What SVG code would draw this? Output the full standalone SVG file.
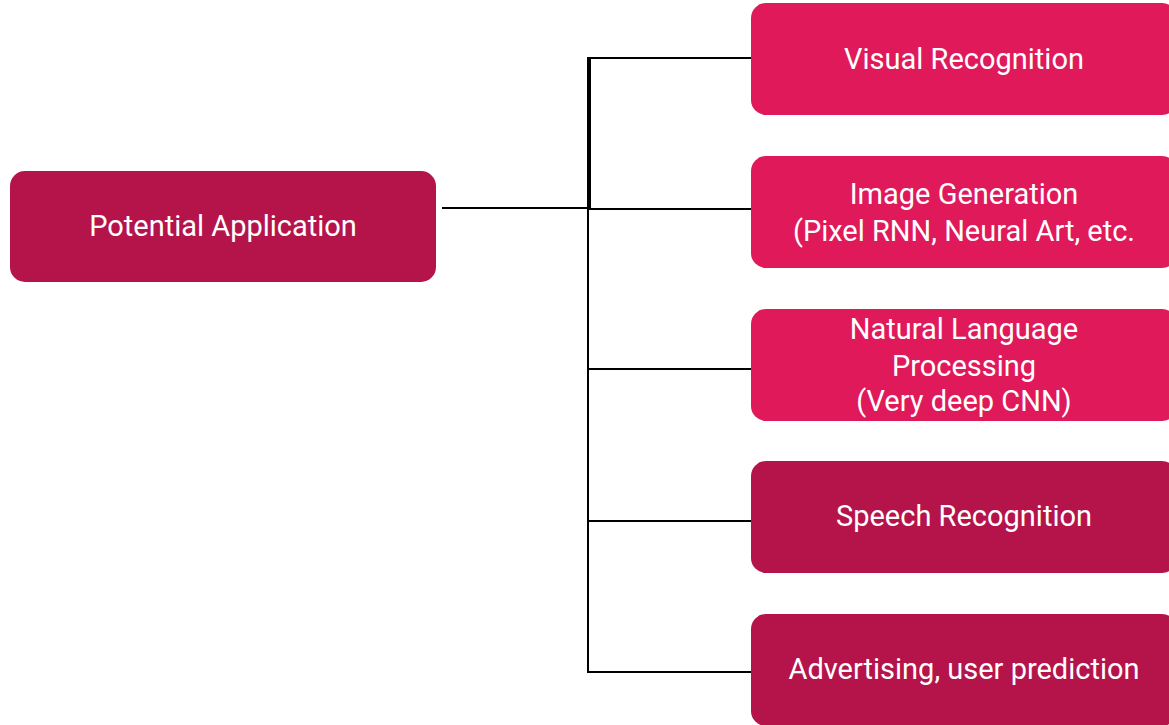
<svg xmlns="http://www.w3.org/2000/svg" width="1169" height="725" viewBox="0 0 1169 725">
  <style>
    .dark { fill: #B5144A; }
    .bright { fill: #E0195B; }
    .label { font-family: Roboto, "Liberation Sans", sans-serif; font-size: 29px; fill: #FFFFFF; text-anchor: middle; }
    .wire { stroke: #000000; stroke-width: 2; fill: none; }
  </style>
  <rect width="1169" height="725" fill="#FFFFFF"/>

  <!-- tree connectors -->
  <g id="connectors">
    <line class="wire" x1="442" y1="208" x2="588" y2="208"/>
    <line class="wire" x1="588" y1="57" x2="588" y2="673"/>
    <line class="wire" x1="590" y1="57" x2="590" y2="209"/>
    <line class="wire" x1="589" y1="58" x2="751" y2="58"/>
    <line class="wire" x1="589" y1="209" x2="751" y2="209"/>
    <line class="wire" x1="588" y1="369" x2="751" y2="369"/>
    <line class="wire" x1="588" y1="521" x2="751" y2="521"/>
    <line class="wire" x1="587" y1="672" x2="751" y2="672"/>
  </g>

  <g id="root">
    <rect class="dark" x="10" y="171" width="426" height="111" rx="15"/>
    <text class="label" x="223" y="236">Potential Application</text>
  </g>

  <g id="visual-recognition">
    <rect class="bright" x="751" y="3" width="426" height="112" rx="15"/>
    <text class="label" x="964" y="69">Visual Recognition</text>
  </g>

  <g id="image-generation">
    <rect class="bright" x="751" y="156" width="426" height="112" rx="15"/>
    <text class="label" x="964" y="204">Image Generation</text>
    <text class="label" x="964" y="241">(Pixel RNN, Neural Art, etc.</text>
  </g>

  <g id="nlp">
    <rect class="bright" x="751" y="309" width="426" height="112" rx="15"/>
    <text class="label" x="964" y="339">Natural Language</text>
    <text class="label" x="964" y="376">Processing</text>
    <text class="label" x="964" y="411">(Very deep CNN)</text>
  </g>

  <g id="speech-recognition">
    <rect class="dark" x="751" y="461" width="426" height="112" rx="15"/>
    <text class="label" x="964" y="526">Speech Recognition</text>
  </g>

  <g id="advertising">
    <rect class="dark" x="751" y="614" width="426" height="112" rx="15"/>
    <text class="label" x="964" y="679">Advertising, user prediction</text>
  </g>
</svg>
